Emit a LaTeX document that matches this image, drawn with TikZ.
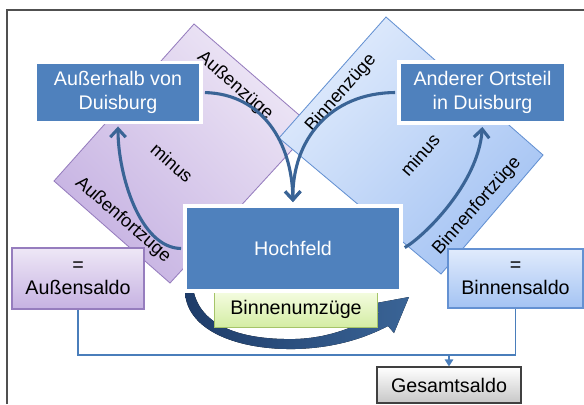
\documentclass[tikz,border=0pt]{standalone}
\usepackage{fontspec}
\setmainfont{Liberation Sans}
\usepackage{tikz}
\usetikzlibrary{arrows.meta,shadows}

\definecolor{boxblue}{RGB}{79,129,189}
\definecolor{curveblue}{RGB}{58,100,150}
\definecolor{curvedark}{RGB}{30,60,105}
\definecolor{lilaline}{RGB}{150,125,190}
\definecolor{lilalight}{RGB}{238,231,246}
\definecolor{liladark}{RGB}{198,178,226}
\definecolor{blauline}{RGB}{100,145,210}
\definecolor{blaulight}{RGB}{224,235,252}
\definecolor{blaudark}{RGB}{164,195,243}
\definecolor{gruenline}{RGB}{165,196,105}
\definecolor{gruenlight}{RGB}{244,252,224}
\definecolor{gruendark}{RGB}{212,237,164}
\definecolor{saldoline}{RGB}{74,126,187}
\definecolor{rahmen}{RGB}{80,80,80}

\begin{document}
\begin{tikzpicture}[x=0.025cm,y=-0.025cm,
    every node/.style={font=\fontsize{14}{16.5}\selectfont, align=center, inner sep=0pt},
    feldlila/.style={draw=lilaline, line width=0.6pt, top color=lilalight, bottom color=liladark, shading angle=-45},
    feldblau/.style={draw=blauline, line width=0.6pt, top color=blaulight, bottom color=blaudark, shading angle=45},
    feldtext/.style={text=black, font=\fontsize{13}{15}\selectfont},
    ortbox/.style={draw=white, line width=2.8pt, fill=boxblue, text=white,
        drop shadow={opacity=0.3, shadow xshift=0.8pt, shadow yshift=-0.8pt}},
    gruenbox/.style={draw=gruenline, line width=0.7pt, top color=gruenlight, bottom color=gruendark},
    saldolila/.style={draw=lilaline, line width=0.8pt, top color=lilalight, bottom color=liladark,
        drop shadow={opacity=0.25, shadow xshift=0.8pt, shadow yshift=-0.8pt}},
    saldoblau/.style={draw=blauline, line width=0.8pt, top color=blaulight, bottom color=blaudark,
        drop shadow={opacity=0.25, shadow xshift=0.8pt, shadow yshift=-0.8pt}},
    gesamtbox/.style={draw=black!75, line width=0.8pt, top color=white, bottom color=black!22},
    wegpfeil/.style={draw=curveblue, line width=2.2pt, shorten <=1.4pt, shorten >=1.4pt,
        -{Straight Barb[length=6pt,width=11pt]}},
    saldopfeil/.style={draw=saldoline, line width=1.1pt}]

        \useasboundingbox (0,0) rectangle (584,404);

        % Rahmen
        \draw[rahmen, line width=1pt] (7,404) -- (7,10) -- (584,10);

        % Aussenwanderung
        \path[feldlila] (54,181) -- (194,24) -- (313,127) -- (170,283) -- cycle;
        \node[feldtext, rotate=-41] (auzu) at (235,86) {Außenzüge};
        \node[feldtext, rotate=-41] (minusl) at (172,163) {minus};
        \node[feldtext, rotate=-41] (aufort) at (123,220) {Außenfortzüge};

        % Binnenwanderung
        \path[feldblau] (279,138) -- (386,17) -- (543,155) -- (441,274) -- cycle;
        \node[feldtext, rotate=48.5] (bizu) at (341,93) {Binnenzüge};
        \node[feldtext, rotate=48.5] (minusr) at (420,155) {minus};
        \node[feldtext, rotate=48.5] (bifort) at (477,206) {Binnenfortzüge};

        % Binnenumzuege (Pfeil unten)
        \fill[left color=curvedark, right color=curveblue]
            (185,293) .. controls (188,332) and (240,350) .. (295,349)
            .. controls (335,348) and (365,338) .. (388,326)
            -- (394,333) -- (409,297) -- (371,304) -- (379,313)
            .. controls (358,326) and (330,338) .. (295,339)
            .. controls (245,340) and (203,328) .. (194,293) -- cycle;
        \node[gruenbox, minimum width=4.05cm, minimum height=0.875cm] (umzug) at (296,309.5) {Binnenumzüge};

        % Orte
        \node[ortbox, minimum width=5.4cm, minimum height=2.125cm] (hoch) at (293,248.5) {Hochfeld};
        \node[ortbox, minimum width=4.15cm, minimum height=1.5cm] (aussen) at (118,92.5) {Außerhalb von\\Duisburg};
        \node[ortbox, minimum width=4.175cm, minimum height=1.525cm] (ortsteil) at (482.5,92.5) {Anderer Ortsteil\\in Duisburg};

        % Zuzuege und Fortzuege
        \draw[wegpfeil] (aussen.east) .. controls (262,94) and (292,142) .. (hoch.north);
        \draw[wegpfeil] (ortsteil.west) .. controls (330,93) and (292,140) .. (hoch.north);
        \draw[wegpfeil] (hoch.west) .. controls (140,248) and (118,175) .. (aussen.south);
        \draw[wegpfeil] (hoch.east) .. controls (422,238) and (478,185) .. (ortsteil.south);

        % Salden
        \node[saldolila, minimum width=3.3cm, minimum height=1.525cm] (aussaldo) at (78,278.5) {=\\Außensaldo};
        \node[saldoblau, minimum width=3.375cm, minimum height=1.475cm] (binsaldo) at (515.5,278.5) {=\\Binnensaldo};
        \node[gesamtbox, minimum width=3.6cm, minimum height=0.9cm] (gesamt) at (449,385) {Gesamtsaldo};

        \coordinate (summe) at (449,355);
        \draw[saldopfeil] (aussaldo.south) |- (summe) -| (binsaldo.south);
        \draw[saldopfeil, -{Triangle[length=5pt,width=6pt]}] (summe) -- (gesamt.north);
    \end{tikzpicture}
\end{document}
